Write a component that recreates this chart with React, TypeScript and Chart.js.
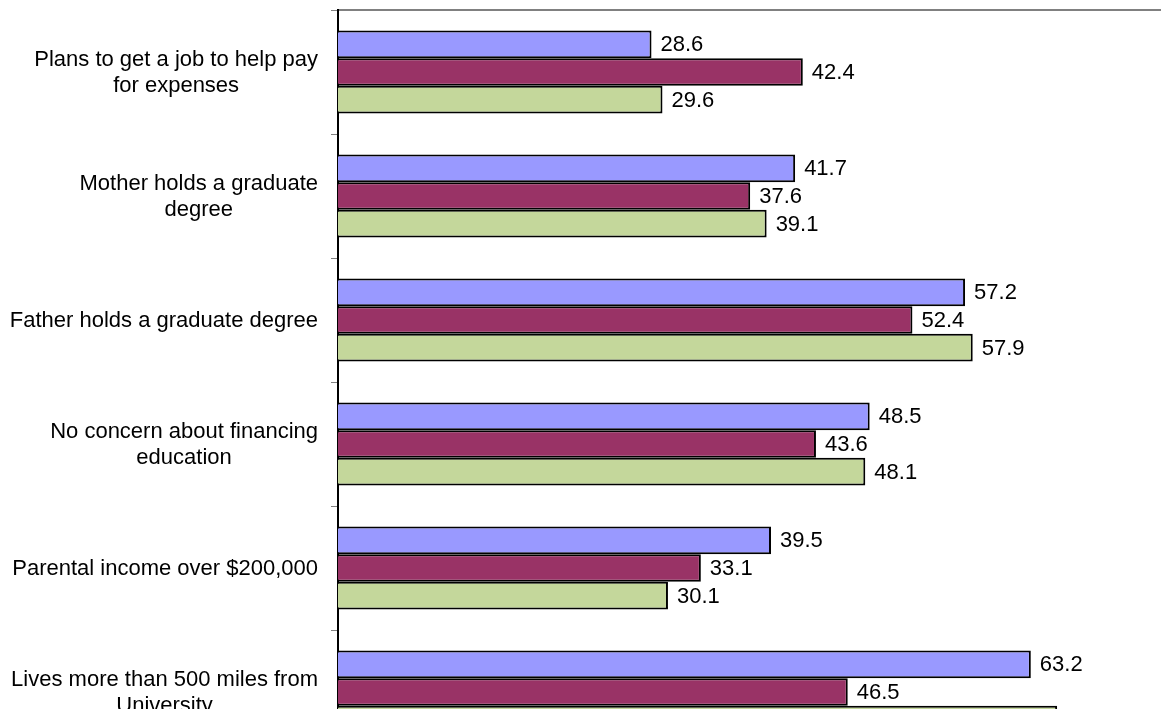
import React, { useEffect, useRef } from "react";
import { Chart, registerables } from "chart.js";

Chart.register(...registerables);

const categories: string[][] = [
  ["Plans to get a job to help pay", "for expenses"],
  ["Mother holds a graduate", "degree"],
  ["Father holds a graduate degree"],
  ["No concern about financing", "education"],
  ["Parental income over $200,000"],
  ["Lives more than 500 miles from", "University"],
];

const seriesA: number[] = [28.6, 41.7, 57.2, 48.5, 39.5, 63.2];
const seriesB: number[] = [42.4, 37.6, 52.4, 43.6, 33.1, 46.5];
const seriesC: number[] = [29.6, 39.1, 57.9, 48.1, 30.1, 65.6];

const seriesNames = ["Series A", "Series B", "Series C"];
const colors = ["#9999FF", "#993366", "#C4D79B"];

const FONT = "'Liberation Sans', Arial, sans-serif";

const labelPlugin = {
  id: "customLabels",
  afterDraw(chart: any) {
    const ctx = chart.ctx;
    const yScale = chart.scales.y;
    ctx.save();
    ctx.font = `22px ${FONT}`;
    ctx.fillStyle = "#000000";
    ctx.textBaseline = "middle";
    const rightEdge = chart.chartArea.left - 20;
    const lineH = 26;
    categories.forEach((lines, i) => {
      const cy = yScale.getPixelForValue(i);
      let maxW = 0;
      lines.forEach((l) => {
        maxW = Math.max(maxW, ctx.measureText(l).width);
      });
      const cx = rightEdge - maxW / 2;
      ctx.textAlign = "center";
      const startY = cy - ((lines.length - 1) * lineH) / 2;
      lines.forEach((l, j) => {
        ctx.fillText(l, cx, startY + j * lineH + 1);
      });
    });
    ctx.textAlign = "left";
    chart.data.datasets.forEach((ds: any, di: number) => {
      const meta = chart.getDatasetMeta(di);
      meta.data.forEach((bar: any, i: number) => {
        const v = ds.data[i];
        ctx.fillText(v.toFixed(1), bar.x + 9, bar.y + 1);
      });
    });
    ctx.restore();
  },
};

export default function App() {
  const canvasRef = useRef<HTMLCanvasElement | null>(null);

  useEffect(() => {
    if (!canvasRef.current) return;
    const chart = new Chart(canvasRef.current, {
      type: "bar",
      data: {
        labels: categories.map((c) => c.join(" ")),
        datasets: [seriesA, seriesB, seriesC].map((d, i) => ({
          label: seriesNames[i],
          data: d,
          backgroundColor: colors[i],
          borderColor: "#000000",
          borderWidth: 2,
          categoryPercentage: 0.668,
          barPercentage: 1,
        })),
      },
      options: {
        indexAxis: "y",
        animation: false,
        responsive: false,
        devicePixelRatio: 1,
        layout: { padding: { top: 10, left: 0, right: 45, bottom: 46 } },
        plugins: {
          legend: { display: false },
          tooltip: { enabled: false },
          title: { display: false },
        },
        scales: {
          x: {
            position: "top",
            min: 0,
            max: 80,
            ticks: { display: false },
            grid: { display: false },
            border: { display: true, color: "#808080", width: 2 },
            afterFit: (scale: any) => {
              scale.height = 0;
            },
          },
          y: {
            position: "left",
            offset: true,
            ticks: { display: false },
            grid: {
              display: true,
              offset: true,
              drawOnChartArea: false,
              drawTicks: true,
              tickLength: 7,
              color: "#808080",
              lineWidth: 1,
            },
            border: { display: true, color: "#000000", width: 2 },
            afterFit: (scale: any) => {
              scale.width = 338;
            },
          },
        },
      },
      plugins: [labelPlugin],
    });
    return () => chart.destroy();
  }, []);

  return (
    <div
      style={{
        position: "fixed",
        left: 0,
        top: 0,
        width: 1161,
        height: 709,
        overflow: "hidden",
        background: "#ffffff",
      }}
    >
      <canvas
        ref={canvasRef}
        width={1260}
        height={800}
        style={{ position: "absolute", left: 0, top: 0, width: 1260, height: 800 }}
      />
    </div>
  );
}
